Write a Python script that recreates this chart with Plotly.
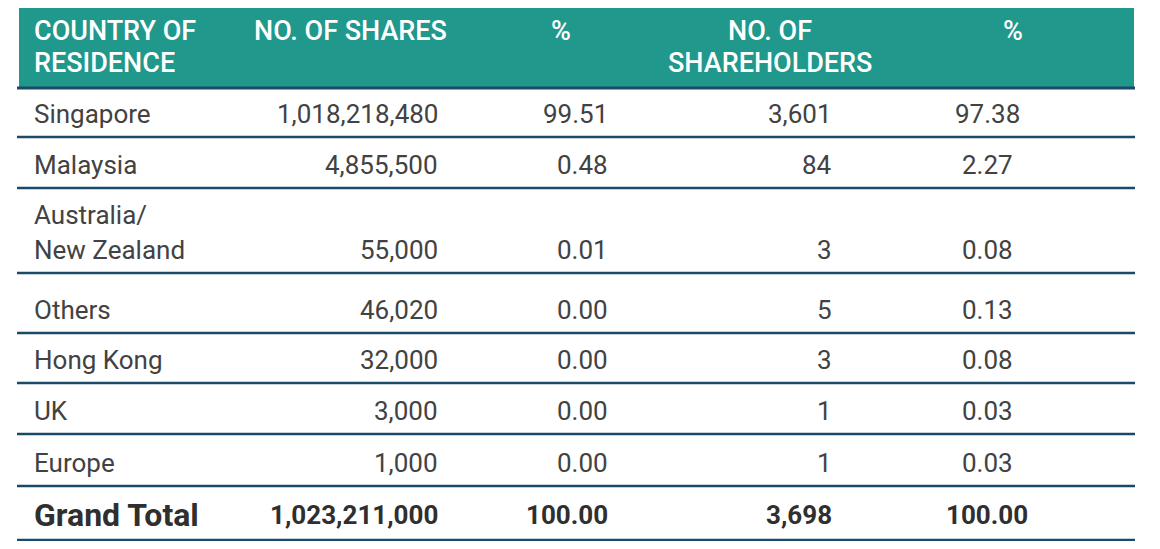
import plotly.graph_objects as go

# data
countries = ["Singapore", "Malaysia", "Australia/\nNew Zealand", "Others",
             "Hong Kong", "UK", "Europe"]
no_of_shares = [1018218480, 4855500, 55000, 46020, 32000, 3000, 1000]
shares_pct = [99.51, 0.48, 0.01, 0.00, 0.00, 0.00, 0.00]
no_of_holders = [3601, 84, 3, 5, 3, 1, 1]
holders_pct = [97.38, 2.27, 0.08, 0.13, 0.08, 0.03, 0.03]
headers = ["COUNTRY OF\nRESIDENCE", "NO. OF SHARES", "%",
           "NO. OF\nSHAREHOLDERS", "%"]
total_label = "Grand Total"

# layout / style
W, H = 1160, 549
PAGE_MARGIN = 8  # default body margin of the html page
PAD = 3          # annotation box padding around the text
TEAL = "#20988b"
RULE = "#1b4a68"
TXT = "#424242"
FONT = "Roboto"
TABLE_L, TABLE_R = 17, 1135
HEAD_TOP, HEAD_BOT = 5, 88
ROW_BOTTOMS = [137, 188, 273, 333, 383, 434, 486, 540]
TEXT_UP = 23
LINE_GAP = 35

# (x, anchor) for body cells and header
body_cols = [(35, "left"), (437, "right"), (607, "right"), (831, "right"), (987, "center")]
head_cols = [(35, "left"), (255, "left"), (561, "center"), (770, "center"), (1013, "center")]

fig = go.Figure()
anns = []


def add_text(x, y, text, anchor, size=26, color=TXT, weight="normal"):
    shift = {"left": -PAD, "right": PAD}.get(anchor, 0)
    anns.append(dict(x=x + shift, y=y, xref="x", yref="y", text=text, showarrow=False,
                     xanchor=anchor, yanchor="middle",
                     font=dict(family=FONT, size=size, color=color, weight=weight)))


# header
fig.add_shape(type="rect", x0=TABLE_L + 2, x1=TABLE_R - 1, y0=HEAD_TOP, y1=HEAD_BOT,
              fillcolor=TEAL, line_width=0, layer="below")
for (x, anchor), h in zip(head_cols, headers):
    for i, part in enumerate(h.split("\n")):
        add_text(x, 31 + i * 32, part, anchor, size=27, color="white", weight=500)

# body rows
rows = []
for c, s, sp, n, hp in zip(countries, no_of_shares, shares_pct, no_of_holders, holders_pct):
    rows.append([c, f"{s:,}", f"{sp:.2f}", f"{n:,}", f"{hp:.2f}"])
rows.append([total_label, f"{sum(no_of_shares):,}", f"{100:.2f}",
             f"{sum(no_of_holders):,}", f"{100:.2f}"])

for r, (row, bot) in enumerate(zip(rows, ROW_BOTTOMS)):
    is_total = r == len(rows) - 1
    base_y = bot - TEXT_UP - (2 if is_total else 0)
    for c, ((x, anchor), val) in enumerate(zip(body_cols, row)):
        parts = val.split("\n")
        for i, part in enumerate(parts):
            y = base_y - (len(parts) - 1 - i) * LINE_GAP
            if is_total:
                add_text(x, y, part, anchor, size=32 if c == 0 else 26,
                         color="#2f2f2f", weight="bold")
            else:
                add_text(x, y, part, anchor)

# horizontal rules
for y in [HEAD_BOT] + ROW_BOTTOMS:
    fig.add_shape(type="line", x0=TABLE_L, x1=TABLE_R, y0=y, y1=y,
                  line=dict(color=RULE, width=3 if y == HEAD_BOT else 2.5))

# the page puts the figure 8px in from the corner, so axes map to page pixels
fig.update_layout(
    width=W - 2 * PAGE_MARGIN, height=H - 2 * PAGE_MARGIN,
    margin=dict(l=0, r=0, t=0, b=0),
    paper_bgcolor="white", plot_bgcolor="white",
    annotations=anns,
    showlegend=False,
    xaxis=dict(range=[PAGE_MARGIN, W - PAGE_MARGIN], visible=False, fixedrange=True),
    yaxis=dict(range=[H - PAGE_MARGIN, PAGE_MARGIN], visible=False, fixedrange=True),
)

fig.write_html("out.html")
